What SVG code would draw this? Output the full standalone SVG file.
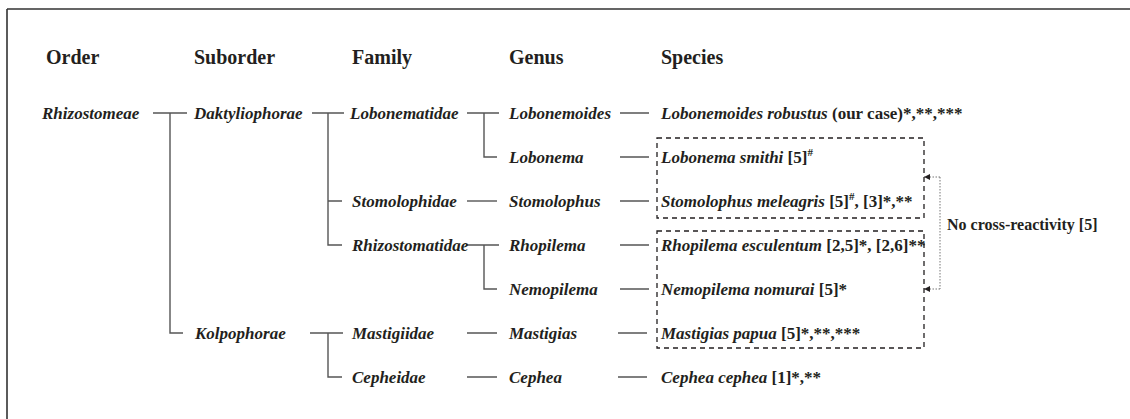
<svg xmlns="http://www.w3.org/2000/svg" width="1130" height="419" viewBox="0 0 1130 419" font-family="'Liberation Serif', 'Times New Roman', 'DejaVu Serif', serif">
<defs>
<style>
text{font-family:'Liberation Serif','Times New Roman','DejaVu Serif',serif;font-weight:bold;fill:#231f20}
.h{font-size:20px}
.t{font-size:17px;font-style:italic}
.s{font-size:17px}
.i{font-style:italic}
.sup{font-size:11px;font-style:normal}
.note{font-size:16px}
.ln{stroke:#555;stroke-width:1.4;fill:none}
.box{stroke:#231f20;stroke-width:1.3;fill:none;stroke-dasharray:5,4}
.dot{stroke:#777;stroke-width:1;fill:none;stroke-dasharray:1.5,1.5}
</style>
<marker id="ah" viewBox="0 0 6 6" refX="6" refY="3" markerWidth="6" markerHeight="6" orient="auto" markerUnits="userSpaceOnUse">
<path d="M0,0 L6,3 L0,6 Z" fill="#231f20"/>
</marker>
</defs>
<rect width="1130" height="419" fill="#fff"/>
<g id="frame"><path d="M7,9 H1130 M7,9 V419" fill="none" stroke="#333" stroke-width="1.6"/></g>
<g id="headers">
<text class="h" x="46" y="64">Order</text>
<text class="h" x="194" y="64">Suborder</text>
<text class="h" x="352" y="64">Family</text>
<text class="h" x="509" y="64">Genus</text>
<text class="h" x="661" y="64">Species</text>
</g>
<g id="connectors">
<path class="ln" d="M153,113 H187 M170,113 V333 H183"/>
<path class="ln" d="M312,113 H344 M328,113 V245 H342 M328,201 H342"/>
<path class="ln" d="M467,113 H499 M484,113 V157 H497"/>
<path class="ln" d="M467,201 H497"/>
<path class="ln" d="M466,245 H499 M484,245 V289 H497"/>
<path class="ln" d="M310,333 H343 M328,333 V377 H342"/>
<path class="ln" d="M467,333 H497 M467,377 H497"/>
<path class="ln" d="M620,113 H649 M620,157 H649 M620,201 H649 M620,245 H649 M620,289 H649 M618,333 H647 M618,377 H647"/>
<path class="dot" d="M940,177 V289"/>
<path class="dot" d="M940,177 H924" marker-end="url(#ah)"/>
<path class="dot" d="M940,289 H924" marker-end="url(#ah)"/>
</g>
<g id="boxes">
<rect class="box" x="657" y="138" width="267" height="80"/>
<rect class="box" x="657" y="231" width="267" height="117"/>
</g>
<g id="n-rhizostomeae"><text class="t" x="42" y="119">Rhizostomeae</text></g>
<g id="n-daktyliophorae"><text class="t" x="194" y="119">Daktyliophorae</text></g>
<g id="n-kolpophorae"><text class="t" x="195" y="339">Kolpophorae</text></g>
<g id="n-lobonematidae"><text class="t" x="350" y="119">Lobonematidae</text></g>
<g id="n-stomolophidae"><text class="t" x="352" y="207">Stomolophidae</text></g>
<g id="n-rhizostomatidae"><text class="t" x="352" y="251">Rhizostomatidae</text></g>
<g id="n-mastigiidae"><text class="t" x="352" y="339">Mastigiidae</text></g>
<g id="n-cepheidae"><text class="t" x="352" y="383">Cepheidae</text></g>
<g id="n-lobonemoides"><text class="t" x="509" y="119">Lobonemoides</text></g>
<g id="n-lobonema"><text class="t" x="509" y="163">Lobonema</text></g>
<g id="n-stomolophus"><text class="t" x="509" y="207">Stomolophus</text></g>
<g id="n-rhopilema"><text class="t" x="509" y="251">Rhopilema</text></g>
<g id="n-nemopilema"><text class="t" x="509" y="295">Nemopilema</text></g>
<g id="n-mastigias"><text class="t" x="509" y="339">Mastigias</text></g>
<g id="n-cephea"><text class="t" x="509" y="383">Cephea</text></g>
<g id="s-lobonemoides"><text class="s" x="661" y="119"><tspan class="i">Lobonemoides robustus</tspan> (our case)*,**,***</text></g>
<g id="s-lobonema"><text class="s" x="661" y="163"><tspan class="i">Lobonema smithi</tspan> [5]<tspan class="sup" dy="-7">#</tspan></text></g>
<g id="s-stomolophus"><text class="s" x="661" y="207"><tspan class="i">Stomolophus meleagris</tspan> [5]<tspan class="sup" dy="-7">#</tspan><tspan dy="7">, [3]*,**</tspan></text></g>
<g id="s-rhopilema"><text class="s" x="661" y="251"><tspan class="i">Rhopilema esculentum</tspan> [2,5]*, [2,6]**</text></g>
<g id="s-nemopilema"><text class="s" x="661" y="295"><tspan class="i">Nemopilema nomurai</tspan> [5]*</text></g>
<g id="s-mastigias"><text class="s" x="661" y="339"><tspan class="i">Mastigias papua</tspan> [5]*,**,***</text></g>
<g id="s-cephea"><text class="s" x="661" y="383"><tspan class="i">Cephea cephea</tspan> [1]*,**</text></g>
<g id="note"><text class="note" x="947" y="230">No cross-reactivity [5]</text></g>
</svg>
